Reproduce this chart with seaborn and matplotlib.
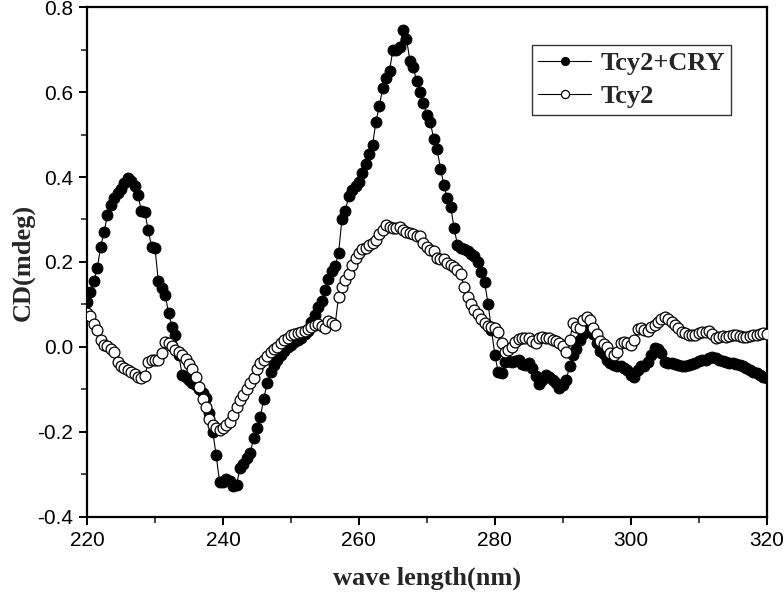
import numpy as np
import pandas as pd
import seaborn as sns
import matplotlib
matplotlib.use('Agg')
import matplotlib.pyplot as plt
from matplotlib.ticker import MultipleLocator

# wavelength grid, 0.5 nm step (220 - 320 nm)
wavelength = np.arange(220, 320.5, 0.5)

# CD signal (mdeg)
tcy2_cry = [
    0.105, 0.13, 0.155, 0.185, 0.235, 0.27, 0.31, 0.335, 0.35, 0.362,
    0.372, 0.385, 0.397, 0.39, 0.378, 0.357, 0.32, 0.318, 0.275, 0.236,
    0.232, 0.154, 0.138, 0.122, 0.08, 0.048, 0.028, -0.02, -0.066, -0.07,
    -0.078, -0.085, -0.09, -0.1, -0.108, -0.12, -0.155, -0.2, -0.255, -0.318,
    -0.318, -0.31, -0.315, -0.328, -0.325, -0.285, -0.275, -0.262, -0.25, -0.215,
    -0.19, -0.165, -0.122, -0.085, -0.06, -0.042, -0.03, -0.018, -0.01, 0.0,
    0.005, 0.012, 0.016, 0.022, 0.03, 0.038, 0.058, 0.075, 0.095, 0.107,
    0.134, 0.16, 0.178, 0.19, 0.22, 0.30, 0.32, 0.355, 0.37, 0.378,
    0.388, 0.41, 0.43, 0.454, 0.475, 0.53, 0.567, 0.609, 0.632, 0.65,
    0.699, 0.70, 0.705, 0.747, 0.725, 0.674, 0.658, 0.625, 0.6, 0.575,
    0.545, 0.53, 0.49, 0.465, 0.42, 0.381, 0.35, 0.33, 0.28, 0.24,
    0.234, 0.23, 0.225, 0.218, 0.214, 0.2, 0.177, 0.152, 0.101, 0.04,
    -0.019, -0.06, -0.062, -0.035, -0.033, -0.035, -0.033, -0.032, -0.04, -0.042,
    -0.038, -0.05, -0.068, -0.088, -0.078, -0.066, -0.07, -0.078, -0.085, -0.097,
    -0.09, -0.078, -0.045, -0.02, -0.005, 0.016, 0.03, 0.04, 0.05, 0.03,
    0.008, -0.01, -0.016, -0.03, -0.038, -0.042, -0.045, -0.046, -0.05, -0.055,
    -0.065, -0.07, -0.055, -0.046, -0.044, -0.036, -0.02, -0.002, -0.005, -0.015,
    -0.035, -0.038, -0.038, -0.04, -0.043, -0.046, -0.044, -0.042, -0.04, -0.037,
    -0.034, -0.031, -0.03, -0.027, -0.024, -0.026, -0.03, -0.034, -0.036, -0.037,
    -0.038, -0.04, -0.043, -0.046, -0.05, -0.054, -0.058, -0.062, -0.066, -0.07,
    -0.074,
]

tcy2 = [
    0.08, 0.072, 0.055, 0.04, 0.016, 0.005, 0.002, -0.005, -0.012, -0.035,
    -0.046, -0.05, -0.054, -0.058, -0.064, -0.07, -0.074, -0.068, -0.035, -0.032,
    -0.031, -0.03, -0.015, 0.012, 0.01, 0.002, -0.007, -0.013, -0.018, -0.028,
    -0.04, -0.052, -0.07, -0.095, -0.122, -0.142, -0.17, -0.185, -0.19, -0.195,
    -0.19, -0.185, -0.176, -0.16, -0.142, -0.125, -0.113, -0.098, -0.085, -0.074,
    -0.052, -0.038, -0.03, -0.021, -0.012, -0.005, 0.0, 0.01, 0.016, 0.02,
    0.027, 0.03, 0.033, 0.036, 0.038, 0.042, 0.048, 0.052, 0.053, 0.05,
    0.044, 0.062, 0.056, 0.052, 0.118, 0.14, 0.158, 0.172, 0.192, 0.209,
    0.222, 0.23, 0.234, 0.24, 0.244, 0.252, 0.265, 0.275, 0.287, 0.283,
    0.28, 0.279, 0.283, 0.275, 0.27, 0.267, 0.265, 0.262, 0.26, 0.245,
    0.235, 0.228, 0.225, 0.21, 0.207, 0.208, 0.198, 0.193, 0.188, 0.182,
    0.172, 0.14, 0.117, 0.102, 0.087, 0.077, 0.066, 0.056, 0.05, 0.046,
    0.044, 0.034, 0.009, -0.012, -0.008, 0.0, 0.012, 0.018, 0.02, 0.021,
    0.02, 0.014, 0.009, 0.02, 0.024, 0.021, 0.02, 0.017, 0.015, 0.01,
    0.003, -0.011, 0.016, 0.056, 0.048, 0.044, 0.064, 0.07, 0.064, 0.045,
    0.03, 0.015, 0.006, 0.0, -0.015, -0.019, -0.013, 0.009, 0.012, 0.009,
    0.005, 0.016, 0.042, 0.044, 0.04, 0.037, 0.046, 0.052, 0.058, 0.066,
    0.071, 0.065, 0.058, 0.052, 0.044, 0.036, 0.032, 0.028, 0.027, 0.029,
    0.032, 0.034, 0.036, 0.038, 0.03, 0.02, 0.024, 0.025, 0.024, 0.026,
    0.028, 0.027, 0.025, 0.024, 0.024, 0.026, 0.028, 0.028, 0.03, 0.032,
    0.031,
]

df = pd.DataFrame({'wl': wavelength, 'Tcy2+CRY': tcy2_cry, 'Tcy2': tcy2})

sns.set_style('ticks')
plt.rcParams['font.family'] = ['Liberation Sans', 'DejaVu Sans']
serif_bold = {'family': 'Liberation Serif', 'weight': 'bold'}

fig = plt.figure(figsize=(7.84, 5.94), dpi=100)
ax = fig.add_axes([0.111, 0.130, 0.867, 0.858])

sns.lineplot(data=df, x='wl', y='Tcy2+CRY', ax=ax, estimator=None,
             color='black', lw=0.8, marker='o', markersize=7.8,
             markerfacecolor='black', markeredgecolor='black',
             label='Tcy2+CRY', zorder=2)
sns.lineplot(data=df, x='wl', y='Tcy2', ax=ax, estimator=None,
             color='black', lw=0.8, marker='o', markersize=7.8,
             markerfacecolor='white', markeredgecolor='black',
             markeredgewidth=0.9, label='Tcy2', zorder=3)

ax.set_xlim(220, 320)
ax.set_ylim(-0.4, 0.8)
ax.xaxis.set_major_locator(MultipleLocator(20))
ax.xaxis.set_minor_locator(MultipleLocator(10))
ax.yaxis.set_minor_locator(MultipleLocator(0.1))
ax.set_yticks(np.arange(-0.4, 0.81, 0.2))
ax.set_yticklabels([f'{v:.1f}' for v in np.arange(-0.4, 0.81, 0.2)])

for s in ax.spines.values():
    s.set_linewidth(1.6)
    s.set_color('black')
ax.tick_params(which='major', direction='out', length=6, width=1.4,
               labelsize=15, colors='black', pad=4)
ax.tick_params(which='minor', direction='out', length=4, width=1.2)

ax.set_xlabel('wave length(nm)', fontdict=serif_bold, fontsize=19, labelpad=12)
ax.set_ylabel('CD(mdeg)', fontdict=serif_bold, fontsize=19, labelpad=2)

leg = ax.legend(loc='upper right', bbox_to_anchor=(0.948, 0.925),
                prop={'family': 'Liberation Serif', 'weight': 'bold', 'size': 19},
                frameon=True, fancybox=False, edgecolor='black',
                borderaxespad=0, handlelength=2.0, borderpad=0.25,
                labelspacing=0.35, handletextpad=0.35, markerscale=0.75)
leg.get_frame().set_linewidth(1.0)

fig.savefig('out.png', dpi=100)
